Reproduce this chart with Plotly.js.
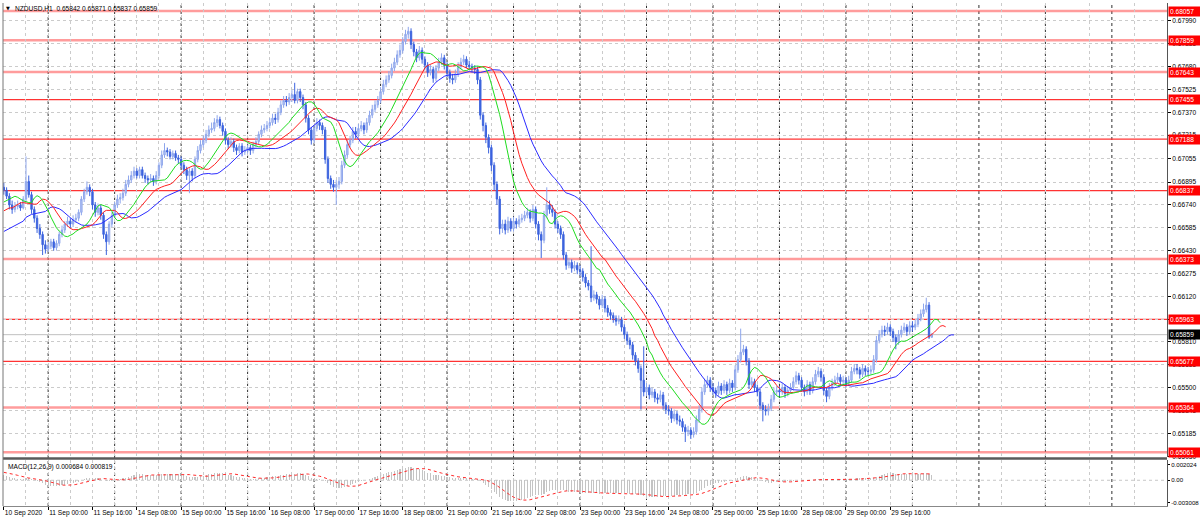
<!DOCTYPE html>
<html><head><meta charset="utf-8">
<script src="https://cdn.plot.ly/plotly-3.0.1.min.js"></script>
<style>html,body{margin:0;padding:0;background:#fff}#chart{width:1200px;height:523px}</style>
</head><body><div id="chart"></div>
<script>
// ---------- text ----------
const symbolTitle = "NZDUSD,H1  0.65842 0.65871 0.65837 0.65859";
const macdTitle = "MACD(12,26,9) 0.000684 0.000819";

// ---------- hourly OHLC (bar 0 = 10 Sep 2020 08:00), open of bar 0 ----------
const firstOpen = 0.6686;
const close = [
0.6684,0.6680,0.6674,0.6671, 0.6673,0.6674,0.6672,0.6678, 0.6690,0.6681,0.6671,0.6665, 0.6658,0.6654,0.6647,0.6644,
0.6646,0.6649,0.6645,0.6648, 0.6654,0.6657,0.6661,0.6663, 0.6661,0.6664,0.6665,0.6669, 0.6678,0.6683,0.6686,0.6683,
0.6674,0.6669,0.6672,0.6667, 0.6654,0.6649,0.6661,0.6667, 0.6674,0.6678,0.6679,0.6682, 0.6688,0.6691,0.6694,0.6697,
0.6694,0.6698,0.6694,0.6692, 0.6691,0.6692,0.6690,0.6694, 0.6701,0.6708,0.6711,0.6710, 0.6707,0.6709,0.6706,0.6705,
0.6701,0.6698,0.6694,0.6697, 0.6694,0.6705,0.6711,0.6715, 0.6718,0.6722,0.6725,0.6726, 0.6730,0.6732,0.6728,0.6724,
0.6718,0.6715,0.6717,0.6713, 0.6711,0.6714,0.6710,0.6711, 0.6713,0.6711,0.6715,0.6717, 0.6722,0.6725,0.6726,0.6728,
0.6730,0.6733,0.6732,0.6737, 0.6742,0.6745,0.6744,0.6747, 0.6749,0.6745,0.6751,0.6747, 0.6742,0.6733,0.6725,0.6718,
0.6726,0.6730,0.6728,0.6725, 0.6705,0.6692,0.6688,0.6686, 0.6688,0.6690,0.6701,0.6708, 0.6715,0.6718,0.6724,0.6722,
0.6726,0.6728,0.6725,0.6730, 0.6735,0.6739,0.6742,0.6745, 0.6751,0.6756,0.6759,0.6762, 0.6767,0.6771,0.6776,0.6779,
0.6785,0.6790,0.6792,0.6783, 0.6778,0.6774,0.6779,0.6773, 0.6769,0.6764,0.6766,0.6760, 0.6767,0.6771,0.6774,0.6769,
0.6764,0.6760,0.6759,0.6763, 0.6768,0.6771,0.6773,0.6769, 0.6768,0.6767,0.6766,0.6759, 0.6735,0.6728,0.6720,0.6713,
0.6701,0.6688,0.6678,0.6658, 0.6661,0.6657,0.6663,0.6658, 0.6663,0.6661,0.6664,0.6665, 0.6667,0.6669,0.6665,0.6671,
0.6661,0.6654,0.6650,0.6667, 0.6674,0.6671,0.6669,0.6661, 0.6658,0.6654,0.6640,0.6633, 0.6635,0.6631,0.6633,0.6630,
0.6629,0.6625,0.6621,0.6619, 0.6611,0.6613,0.6610,0.6606, 0.6610,0.6604,0.6601,0.6599, 0.6597,0.6595,0.6596,0.6591,
0.6586,0.6582,0.6579,0.6572, 0.6568,0.6563,0.6555,0.6547, 0.6550,0.6545,0.6547,0.6543, 0.6542,0.6545,0.6538,0.6535,
0.6534,0.6529,0.6532,0.6528, 0.6527,0.6523,0.6520,0.6521, 0.6518,0.6520,0.6528,0.6535, 0.6547,0.6552,0.6555,0.6550,
0.6548,0.6546,0.6551,0.6548, 0.6552,0.6548,0.6553,0.6550, 0.6562,0.6569,0.6574,0.6576, 0.6568,0.6552,0.6554,0.6550,
0.6547,0.6538,0.6535,0.6534, 0.6536,0.6542,0.6547,0.6548, 0.6547,0.6550,0.6546,0.6548, 0.6550,0.6554,0.6558,0.6555,
0.6550,0.6547,0.6552,0.6548, 0.6554,0.6559,0.6561,0.6557, 0.6548,0.6544,0.6550,0.6553, 0.6555,0.6557,0.6554,0.6555,
0.6553,0.6555,0.6561,0.6563, 0.6562,0.6559,0.6563,0.6561, 0.6561,0.6562,0.6569,0.6582, 0.6586,0.6589,0.6588,0.6591,
0.6588,0.6584,0.6581,0.6586, 0.6589,0.6591,0.6588,0.6592, 0.6591,0.6593,0.6597,0.6600, 0.6603,0.6606,0.65842,0.65859
];
const high = [
0.6689,0.6686,0.6682,0.6677, 0.6676,0.6677,0.6676,0.6680, 0.6707,0.6694,0.6683,0.6673, 0.6667,0.6661,0.6656,0.6650,
0.6649,0.6651,0.6651,0.6650, 0.6656,0.6660,0.6663,0.6666, 0.6665,0.6667,0.6668,0.6671, 0.6680,0.6685,0.6690,0.6688,
0.6685,0.6676,0.6675,0.6674, 0.6669,0.6656,0.6663,0.6669, 0.6676,0.6681,0.6682,0.6685, 0.6691,0.6694,0.6697,0.6700,
0.6699,0.6700,0.6700,0.6696, 0.6694,0.6695,0.6694,0.6697, 0.6703,0.6711,0.6716,0.6713, 0.6712,0.6711,0.6711,0.6708,
0.6707,0.6703,0.6700,0.6699, 0.6699,0.6707,0.6714,0.6718, 0.6721,0.6725,0.6728,0.6730, 0.6733,0.6735,0.6734,0.6730,
0.6726,0.6720,0.6720,0.6719, 0.6715,0.6716,0.6716,0.6714, 0.6715,0.6715,0.6717,0.6720, 0.6724,0.6728,0.6729,0.6731,
0.6733,0.6736,0.6736,0.6740, 0.6745,0.6748,0.6748,0.6750, 0.6752,0.6757,0.6753,0.6753, 0.6749,0.6744,0.6735,0.6727,
0.6728,0.6733,0.6732,0.6730, 0.6727,0.6707,0.6694,0.6691, 0.6691,0.6693,0.6704,0.6711, 0.6718,0.6721,0.6727,0.6727,
0.6729,0.6731,0.6730,0.6733, 0.6738,0.6742,0.6745,0.6748, 0.6754,0.6759,0.6762,0.6765, 0.6770,0.6774,0.6779,0.6783,
0.6788,0.6793,0.6795,0.6794, 0.6785,0.6780,0.6782,0.6781, 0.6775,0.6771,0.6769,0.6768, 0.6769,0.6774,0.6777,0.6776,
0.6771,0.6766,0.6763,0.6766, 0.6771,0.6774,0.6776,0.6775, 0.6772,0.6770,0.6769,0.6768, 0.6761,0.6737,0.6730,0.6722,
0.6715,0.6703,0.6690,0.6680, 0.6664,0.6664,0.6666,0.6665, 0.6666,0.6665,0.6667,0.6668, 0.6670,0.6672,0.6671,0.6674,
0.6673,0.6663,0.6656,0.6670, 0.6686,0.6677,0.6674,0.6671, 0.6663,0.6660,0.6656,0.6642, 0.6638,0.6637,0.6636,0.6635,
0.6633,0.6631,0.6627,0.6623, 0.6646,0.6616,0.6615,0.6612, 0.6613,0.6612,0.6606,0.6603, 0.6601,0.6599,0.6599,0.6598,
0.6593,0.6588,0.6584,0.6581, 0.6574,0.6570,0.6565,0.6578, 0.6553,0.6552,0.6550,0.6549, 0.6546,0.6548,0.6547,0.6540,
0.6538,0.6536,0.6535,0.6534, 0.6531,0.6529,0.6525,0.6524, 0.6523,0.6523,0.6531,0.6538, 0.6550,0.6556,0.6558,0.6557,
0.6553,0.6550,0.6554,0.6553, 0.6555,0.6554,0.6556,0.6555, 0.6565,0.6572,0.6590,0.6579, 0.6578,0.6570,0.6557,0.6556,
0.6552,0.6549,0.6540,0.6538, 0.6539,0.6545,0.6550,0.6551, 0.6551,0.6553,0.6552,0.6551, 0.6553,0.6557,0.6561,0.6560,
0.6557,0.6552,0.6555,0.6554, 0.6557,0.6562,0.6564,0.6563, 0.6559,0.6550,0.6553,0.6556, 0.6558,0.6560,0.6559,0.6558,
0.6557,0.6558,0.6564,0.6566, 0.6566,0.6564,0.6566,0.6565, 0.6564,0.6565,0.6572,0.6585, 0.6589,0.6592,0.6592,0.6594,
0.6593,0.6590,0.6586,0.6589, 0.6592,0.6594,0.6593,0.6595, 0.6595,0.6596,0.6600,0.6603, 0.6607,0.6611,0.6608,0.65871
];
const low = [
0.6681,0.6678,0.6671,0.6668, 0.6669,0.6671,0.6670,0.6671, 0.6676,0.6679,0.6668,0.6662, 0.6655,0.6651,0.6640,0.6641,
0.6642,0.6644,0.6643,0.6643, 0.6646,0.6652,0.6655,0.6659, 0.6658,0.6659,0.6662,0.6663, 0.6667,0.6676,0.6681,0.6680,
0.6671,0.6666,0.6667,0.6664, 0.6651,0.6640,0.6647,0.6659, 0.6665,0.6672,0.6675,0.6677, 0.6680,0.6686,0.6689,0.6692,
0.6692,0.6692,0.6692,0.6689, 0.6688,0.6689,0.6687,0.6688, 0.6692,0.6699,0.6706,0.6707, 0.6705,0.6705,0.6704,0.6702,
0.6699,0.6695,0.6691,0.6682, 0.6690,0.6692,0.6703,0.6709, 0.6713,0.6716,0.6720,0.6723, 0.6724,0.6727,0.6726,0.6721,
0.6715,0.6712,0.6713,0.6710, 0.6708,0.6709,0.6707,0.6708, 0.6709,0.6708,0.6709,0.6713, 0.6715,0.6720,0.6723,0.6724,
0.6726,0.6728,0.6729,0.6730, 0.6735,0.6740,0.6741,0.6742, 0.6744,0.6743,0.6743,0.6744, 0.6739,0.6730,0.6722,0.6715,
0.6716,0.6724,0.6725,0.6722, 0.6702,0.6689,0.6685,0.6683, 0.6674,0.6685,0.6688,0.6699, 0.6706,0.6713,0.6716,0.6719,
0.6720,0.6724,0.6722,0.6723, 0.6728,0.6733,0.6737,0.6740, 0.6743,0.6749,0.6754,0.6757, 0.6760,0.6765,0.6769,0.6774,
0.6777,0.6783,0.6787,0.6780, 0.6775,0.6771,0.6772,0.6770, 0.6766,0.6761,0.6762,0.6757, 0.6758,0.6765,0.6769,0.6766,
0.6761,0.6757,0.6756,0.6757, 0.6761,0.6766,0.6769,0.6767, 0.6766,0.6764,0.6763,0.6756, 0.6732,0.6724,0.6716,0.6709,
0.6697,0.6684,0.6674,0.6654, 0.6655,0.6654,0.6655,0.6656, 0.6656,0.6658,0.6659,0.6662, 0.6663,0.6665,0.6662,0.6663,
0.6658,0.6650,0.6638,0.6648, 0.6665,0.6668,0.6666,0.6658, 0.6655,0.6651,0.6637,0.6630, 0.6631,0.6628,0.6629,0.6627,
0.6626,0.6622,0.6618,0.6616, 0.6608,0.6609,0.6607,0.6603, 0.6604,0.6601,0.6598,0.6596, 0.6594,0.6592,0.6593,0.6588,
0.6583,0.6579,0.6576,0.6569, 0.6565,0.6560,0.6535,0.6544, 0.6544,0.6542,0.6543,0.6540, 0.6539,0.6540,0.6535,0.6532,
0.6531,0.6526,0.6527,0.6525, 0.6524,0.6520,0.6513,0.6517, 0.6515,0.6516,0.6518,0.6526, 0.6533,0.6545,0.6550,0.6547,
0.6545,0.6543,0.6544,0.6545, 0.6546,0.6545,0.6546,0.6547, 0.6548,0.6560,0.6567,0.6572, 0.6565,0.6549,0.6550,0.6547,
0.6544,0.6535,0.6527,0.6531, 0.6531,0.6534,0.6540,0.6545, 0.6544,0.6545,0.6543,0.6544, 0.6546,0.6548,0.6552,0.6552,
0.6547,0.6544,0.6545,0.6545, 0.6546,0.6552,0.6557,0.6554, 0.6545,0.6540,0.6542,0.6548, 0.6551,0.6553,0.6551,0.6552,
0.6550,0.6551,0.6553,0.6559, 0.6559,0.6556,0.6557,0.6558, 0.6558,0.6559,0.6560,0.6567, 0.6580,0.6584,0.6585,0.6586,
0.6585,0.6581,0.6576,0.6579, 0.6584,0.6587,0.6585,0.6586, 0.6588,0.6589,0.6591,0.6595, 0.6598,0.6601,0.6583,0.65837
];

const jawHead = [0.6656,0.6657,0.6658,0.6659,0.6660,0.6661,0.6662,0.6663];
const teethHead = [0.6670,0.6671,0.6672,0.6672,0.6673];
const lipsHead = [0.6676,0.6677,0.6678];
const jawSeed = 0.6664, teethSeed = 0.6673, lipsSeed = 0.6678;
const ema12Seed = 0.6683, ema26Seed = 0.6676, signalSeed = 0.0011;

// ---------- axis labels ----------
const xTickBars = [0,16,32,48,64,80,96,112,128,144,160,176,192,208,224,240,256,272,288,304,320];
const xTickLabels = ["10 Sep 2020","11 Sep 00:00","11 Sep 16:00","14 Sep 08:00","15 Sep 00:00","15 Sep 16:00",
  "16 Sep 08:00","17 Sep 00:00","17 Sep 16:00","18 Sep 08:00","21 Sep 00:00","21 Sep 16:00","22 Sep 08:00",
  "23 Sep 00:00","23 Sep 16:00","24 Sep 08:00","25 Sep 00:00","25 Sep 16:00","28 Sep 08:00","29 Sep 00:00","29 Sep 16:00"];
const daySeparators = [16,40,64,88,112,136,160,184,208,232,256,280,304,328,352,376,400];
const minorGridBars = [8,24,40,56,72,88,104,120,136,152,168,184,200,216,232,248,264,280,296,312,328,344,360,376,392,408];
const priceTicks = [0.67990,0.67835,0.67680,0.67525,0.67370,0.67215,0.67055,0.66895,0.66740,0.66585,
  0.66430,0.66275,0.66120,0.65965,0.65810,0.65655,0.65500,0.65345,0.65185,0.65030];
const macdTicks = [0.002024, 0, -0.003008];
const macdTickText = ["0.002024", "0.00", "-0.003008"];

// ---------- horizontal levels ----------
const levelsSoft = [0.68057, 0.67859, 0.67643, 0.66373, 0.65364, 0.65061];
const levelsHard = [0.67455, 0.67188, 0.66837, 0.65963, 0.65677];
const currentPrice = 0.65859;

// ---------- derived ----------
const N = close.length;
const bars = close.map((_, i) => i);
const open = [firstOpen].concat(close.slice(0, N - 1));
const median = high.map((h, i) => (h + low[i]) / 2);

function smmaLine(period, shift, seed, head) {
  const xs = [], ys = [];
  head.forEach((v, i) => { xs.push(i); ys.push(v); });
  let s = seed;
  for (let i = 0; i < N; i++) {
    s = (s * (period - 1) + median[i]) / period;
    xs.push(i + shift); ys.push(s);
  }
  return {x: xs, y: ys};
}
const jaw = smmaLine(13, 8, jawSeed, jawHead);
const teeth = smmaLine(8, 5, teethSeed, teethHead);
const lips = smmaLine(5, 3, lipsSeed, lipsHead);

const macd = [], signal = [];
let e12 = ema12Seed, e26 = ema26Seed;
for (let i = 0; i < N; i++) {
  e12 = e12 + (2 / 13) * (close[i] - e12);
  e26 = e26 + (2 / 27) * (close[i] - e26);
  macd.push(e12 - e26);
}
for (let i = 0; i < N; i++) {
  let s = 0;
  for (let k = i - 8; k <= i; k++) s += (k >= 0 ? macd[k] : signalSeed);
  signal.push(s / 9);
}

// ---------- layout geometry ----------
const FONT = 'Liberation Sans, Arial, sans-serif';
const FS = 6.6;
const mainDomain = [0.0974, 1];
const macdDomain = [0, 0.0915];

const traces = [
  {type: 'candlestick', x: bars, open: open, high: high, low: low, close: close,
   xaxis: 'x', yaxis: 'y', whiskerwidth: 0, hoverinfo: 'skip', showlegend: false,
   increasing: {line: {color: '#8ea6ec', width: 1}, fillcolor: '#bccaf3'},
   decreasing: {line: {color: '#3c63de', width: 1}, fillcolor: '#3c63de'}},
  {type: 'scatter', mode: 'lines', x: jaw.x, y: jaw.y, xaxis: 'x', yaxis: 'y',
   line: {color: '#2b2bff', width: 1}, hoverinfo: 'skip', showlegend: false},
  {type: 'scatter', mode: 'lines', x: teeth.x, y: teeth.y, xaxis: 'x', yaxis: 'y',
   line: {color: '#ff2020', width: 1}, hoverinfo: 'skip', showlegend: false},
  {type: 'scatter', mode: 'lines', x: lips.x, y: lips.y, xaxis: 'x', yaxis: 'y',
   line: {color: '#1fdc1f', width: 1}, hoverinfo: 'skip', showlegend: false},
  {type: 'bar', x: bars, y: macd, xaxis: 'x', yaxis: 'y2', width: 0.4,
   marker: {color: '#c4c4c4', line: {width: 0}}, hoverinfo: 'skip', showlegend: false},
  {type: 'scatter', mode: 'lines', x: bars, y: signal, xaxis: 'x', yaxis: 'y2',
   line: {color: '#ff2a2a', width: 1, dash: 'dot'}, hoverinfo: 'skip', showlegend: false}
];

const shapes = [];
daySeparators.forEach(b => shapes.push({type: 'line', xref: 'x', yref: 'paper', x0: b, x1: b, y0: 0, y1: 1,
  layer: 'between', line: {color: '#303030', width: 1, dash: '3px,3px'}}));
levelsSoft.forEach(v => shapes.push({type: 'line', xref: 'paper', yref: 'y', x0: 0, x1: 1, y0: v, y1: v,
  layer: 'between', line: {color: 'rgba(255,90,90,0.6)', width: 2.5}}));
levelsHard.forEach(v => shapes.push({type: 'line', xref: 'paper', yref: 'y', x0: 0, x1: 1, y0: v, y1: v,
  layer: 'between', line: {color: '#ff3333', width: 1.2}}));
shapes.push({type: 'line', xref: 'paper', yref: 'y', x0: 0, x1: 1, y0: currentPrice, y1: currentPrice,
  layer: 'between', line: {color: '#c0c0c0', width: 1}});
shapes.push({type: 'line', xref: 'paper', yref: 'y2', x0: 0, x1: 1, y0: 0, y1: 0,
  layer: 'between', line: {color: '#c8c8c8', width: 1, dash: '3px,3px'}});
shapes.push({type: 'line', xref: 'paper', yref: 'paper', x0: 0, x1: 1, y0: 0.0944, y1: 0.0944,
  layer: 'above', line: {color: '#5a5a5a', width: 2.5}});
shapes.push({type: 'line', xref: 'paper', yref: 'paper', x0: 0, x1: 0, y0: 0, y1: 1,
  layer: 'above', line: {color: '#777', width: 1}});

const annotations = [
  {xref: 'paper', yref: 'paper', x: 0, y: 1, xanchor: 'left', yanchor: 'top', xshift: 1, yshift: 0,
   text: '▼', showarrow: false, font: {family: 'DejaVu Sans', size: 5, color: '#000'}},
  {xref: 'paper', yref: 'paper', x: 0, y: 1, xanchor: 'left', yanchor: 'top', xshift: 10, yshift: 0,
   text: symbolTitle, showarrow: false, font: {family: FONT, size: FS, color: '#000'}},
  {xref: 'paper', yref: 'paper', x: 0, y: macdDomain[1], xanchor: 'left', yanchor: 'top', xshift: 3, yshift: -1,
   text: macdTitle, showarrow: false, font: {family: FONT, size: FS, color: '#000'}}
];
levelsSoft.concat(levelsHard).forEach(v => annotations.push({
  xref: 'paper', yref: 'y', x: 1, y: v, xanchor: 'left', yanchor: 'middle', xshift: 1,
  text: v.toFixed(5), showarrow: false, bgcolor: '#ff0000', borderpad: 1, width: 29, align: 'left',
  font: {family: FONT, size: FS, color: '#fff'}}));
annotations.push({xref: 'paper', yref: 'y', x: 1, y: currentPrice, xanchor: 'left', yanchor: 'middle', xshift: 1,
  text: currentPrice.toFixed(5), showarrow: false, bgcolor: '#000', borderpad: 1, width: 29, align: 'left',
  font: {family: FONT, size: FS, color: '#fff'}});

const gridStyle = {gridcolor: '#cbcbcb', gridwidth: 1, griddash: '3px,3px'};
const layout = {
  width: 1200, height: 523,
  margin: {l: 3, r: 33, t: 3, b: 17},
  paper_bgcolor: '#ffffff', plot_bgcolor: '#ffffff',
  showlegend: false, dragmode: false, bargap: 0,
  font: {family: FONT, size: FS, color: '#000'},
  xaxis: Object.assign({
    domain: [0, 1], range: [-0.3, 419.9], anchor: 'y2', type: 'linear',
    tickmode: 'array', tickvals: xTickBars, ticktext: xTickLabels, tickangle: 0,
    ticklabelposition: 'outside right', ticks: 'outside', ticklen: 3, tickcolor: '#000',
    tickfont: {family: FONT, size: FS, color: '#000'},
    showgrid: true, zeroline: false, showline: true, linecolor: '#888',
    minor: {tickmode: 'array', tickvals: minorGridBars, showgrid: true, gridcolor: '#cbcbcb', griddash: '3px,3px', ticks: ''},
    rangeslider: {visible: false}, fixedrange: true
  }, gridStyle),
  yaxis: Object.assign({
    domain: mainDomain, range: [0.65028, 0.68112], anchor: 'x', side: 'right',
    tickmode: 'array', tickvals: priceTicks, ticktext: priceTicks.map(v => v.toFixed(5)),
    ticks: 'outside', ticklen: 3, tickcolor: '#000',
    tickfont: {family: FONT, size: FS, color: '#000'},
    showgrid: true, zeroline: false, showline: true, linecolor: '#555', fixedrange: true
  }, gridStyle),
  yaxis2: {
    domain: macdDomain, range: [-0.003405, 0.002686], anchor: 'x', side: 'right',
    tickmode: 'array', tickvals: macdTicks, ticktext: macdTickText,
    ticks: 'outside', ticklen: 2, tickcolor: '#000',
    tickfont: {family: FONT, size: 6.1, color: '#000'},
    showgrid: false, zeroline: false, showline: true, linecolor: '#555', fixedrange: true
  },
  shapes: shapes,
  annotations: annotations
};

Plotly.newPlot('chart', traces, layout, {staticPlot: true, displayModeBar: false});
</script>
</body></html>
